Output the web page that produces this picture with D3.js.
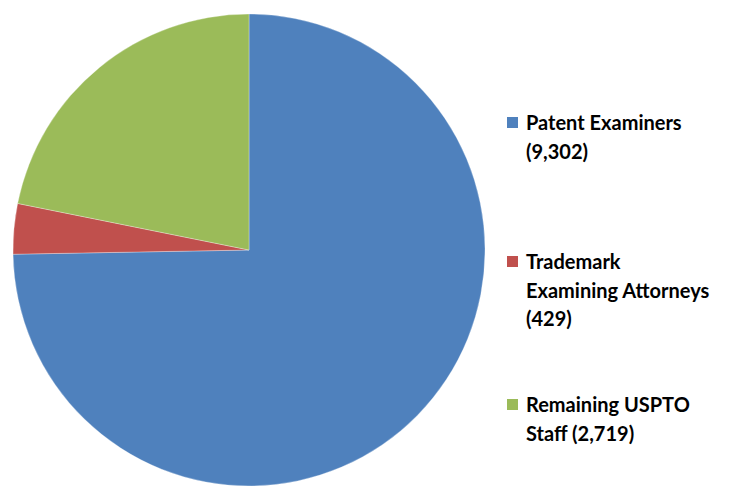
<!doctype html>
<meta charset="utf8">
<style>
  body { margin: 0; background: #fff; }
  text { font-family: Lato, "Open Sans", sans-serif; font-weight: bold; fill: #000; }
</style>
<body>
<div id="chart"></div>
<script src="https://d3js.org/d3.v7.min.js"></script>
<script>
const categories = ["Patent Examiners", "Trademark Examining Attorneys", "Remaining USPTO Staff"];
const values = [9302, 429, 2719];
const colors = ["#4F81BD", "#C0504D", "#9BBB59"];
const legendLines = [
  ["Patent Examiners", "(9,302)"],
  ["Trademark", "Examining Attorneys", "(429)"],
  ["Remaining USPTO", "Staff (2,719)"],
];

(function() {
  const width = 742, height = 487;
  const cx = 249, cy = 250, r = 236;

  const svg = d3.select("#chart").append("svg")
    .attr("width", width)
    .attr("height", height);

  const data = categories.map((c, i) => ({name: c, value: values[i], color: colors[i]}));

  const pie = d3.pie().value(d => d.value).sort(null);
  const arc = d3.arc().innerRadius(0).outerRadius(r);

  svg.append("g")
    .attr("transform", `translate(${cx},${cy})`)
    .selectAll("path")
    .data(pie(data))
    .join("path")
      .attr("d", arc)
      .attr("fill", d => d.data.color)
      .attr("stroke", "#fff")
      .attr("stroke-opacity", 0.5)
      .attr("stroke-width", 0.6);

  // legend
  const tops = [130, 269, 412];
  const lineH = 28.5;
  const legend = svg.append("g");
  data.forEach((d, i) => {
    const g = legend.append("g").attr("transform", `translate(507,${tops[i]})`);
    g.append("rect")
      .attr("x", 0).attr("y", -13)
      .attr("width", 11).attr("height", 11)
      .attr("fill", d.color);
    g.selectAll("text")
      .data(legendLines[i])
      .join("text")
        .attr("x", 19)
        .attr("y", (t, j) => j * lineH)
        .attr("font-size", 20)
        .text(t => t);
  });
})();
</script>
</body>
